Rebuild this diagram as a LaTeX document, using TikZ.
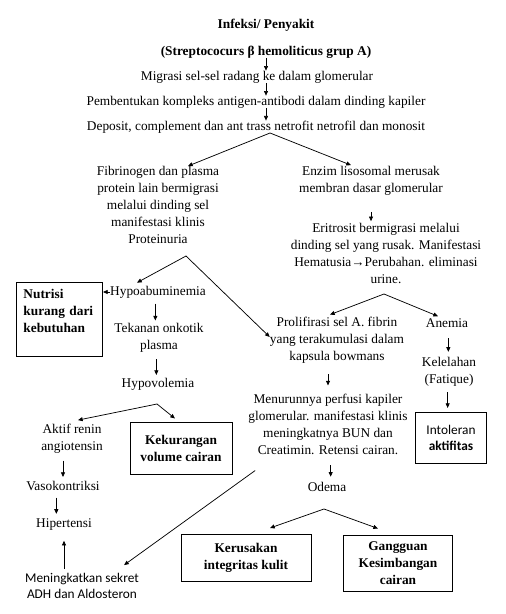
\documentclass[tikz,border=0pt]{standalone}
\usepackage{fontspec}
\setmainfont{Liberation Serif}
\newfontfamily\calibri{Carlito}
\usetikzlibrary{arrows.meta, positioning}

\tikzset{
  txt/.style={inner sep=0pt, align=center, font=\fontsize{10}{12.75}\selectfont},
  txtb/.style={txt, font=\bfseries\fontsize{10}{12.75}\selectfont},
  bx/.style={draw, line width=0.75pt, inner sep=0pt, align=center, font=\bfseries\fontsize{10}{12.75}\selectfont},
  arr/.style={-{Triangle[length=3.5pt,width=3pt]}, line width=0.55pt},
  ln/.style={line width=0.55pt},
}

\begin{document}
\begin{tikzpicture}[x=0.75pt, y=-0.75pt]
        \useasboundingbox (0,0) rectangle (506,614);
        % top chain
        \node[txtb] (title) at (266,25) {Infeksi/ Penyakit};
        \node[txtb] (strep) at (266,52) {(Streptococurs β hemoliticus grup A)};
        \node[txt] (migrasi) at (257,77) {Migrasi sel-sel radang ke dalam glomerular};
        \node[txt] (pemb) at (256,102) {Pembentukan kompleks antigen-antibodi dalam dinding kapiler};
        \node[txt] (deposit) at (256,127) {Deposit, complement dan ant trass netrofit netrofil dan monosit};
        \draw[arr] (strep.south) -- (strep.south |- migrasi.north);
        \draw[arr] (migrasi.south -| strep) -- (pemb.north -| strep);
        \draw[arr] (pemb.south -| strep) -- (deposit.north -| strep);

        % first split
        \node[txt] (fibrin) at (158,205) {Fibrinogen dan plasma\\ protein lain bermigrasi\\ melalui dinding sel\\ manifestasi klinis\\ Proteinuria};
        \node[txt] (enzim) at (371,181) {Enzim lisosomal merusak\\ membran dasar glomerular};
        \coordinate (splitA) at (270,133);
        \draw[arr] (splitA) -- ([shift={(30,0)}]fibrin.north);
        \draw[arr] (splitA) -- ([shift={(-20,-1)}]enzim.north);

        \node[txt] (eritrosit) at (386,253) {Eritrosit bermigrasi melalui\\ dinding sel yang rusak. Manifestasi\\ Hematusia→Perubahan. eliminasi\\ urine.};
        \draw[arr, shorten <=12pt, shorten >=1pt] (enzim.south) -- (enzim.south |- eritrosit.north);

        % right branch
        \node[txt] (prolif) at (337,340) {Prolifirasi sel A. fibrin\\ yang terakumulasi dalam\\ kapsula bowmans};
        \node[txt] (anemia) at (447,323) {Anemia};
        \coordinate (splitD) at (384,294);
        \draw[arr] (splitD) -- ([shift={(-7,-2)}]prolif.north);
        \draw[arr] (splitD) -- ([shift={(-9,-2)}]anemia.north);

        \node[txt] (kelelahan) at (449,372) {Kelelahan\\ (Fatique)};
        \node[draw, line width=0.75pt, inner sep=0pt, align=center, minimum width=53.25pt, minimum height=38.25pt,
              font=\calibri\fontsize{10}{11.5}\selectfont] (intoleran) at (451,438) {Intoleran\\ \textbf{aktifitas}};
        \draw[arr, shorten <=8pt, shorten >=4pt] ([xshift=1pt]anemia.south) -- ([xshift=1pt]anemia.south |- kelelahan.north);
        \draw[arr, shorten <=4pt, shorten >=3pt] ([xshift=-1pt]kelelahan.south) -- ([xshift=-1pt]kelelahan.south |- intoleran.north);

        \node[txt] (menurun) at (328,424) {Menurunnya perfusi kapiler\\ glomerular. manifestasi klinis\\ meningkatnya BUN dan\\ Creatimin. Retensi cairan.};
        \node[txt] (odema) at (327,487) {Odema};
        \draw[arr, shorten <=8pt, shorten >=6pt] (prolif.south -| menurun) -- (menurun.north);
        \draw[arr, shorten <=8pt, shorten >=4pt] ([xshift=2pt]menurun.south) -- ([xshift=2pt]menurun.south |- odema.north);

        % left branch
        \node[txt] (hypo) at (158,292) {Hypoabuminemia};
        \node[bx, anchor=north west, text width=54pt, inner xsep=5.25pt, minimum height=55.5pt, align=left] (nutrisi) at (16,282) {Nutrisi\\ kurang dari\\ kebutuhan\\ \mbox{}};
        \node[txt] (tekanan) at (159,338) {Tekanan onkotik\\ plasma};
        \node[txt] (hypovol) at (158,384) {Hypovolemia};
        \coordinate (splitB) at (186,256);
        \draw[arr] (splitB) -- ([shift={(-21,-3)}]hypo.north);
        \draw[arr] (splitB) -- ([shift={(0,-3)}]prolif.west);
        \draw[arr] (hypo.west) -- (nutrisi.east |- hypo.west);
        \draw[arr, shorten <=4pt, shorten >=2pt] ([xshift=-2pt]hypo.south) -- ([xshift=-2pt]hypo.south |- tekanan.north);
        \draw[arr, shorten <=5pt, shorten >=2pt] ([xshift=-2pt]tekanan.south) -- ([xshift=-2pt]tekanan.south |- hypovol.north);

        \node[txt] (aktif) at (72,439) {Aktif renin\\ angiotensin};
        \node[bx, minimum width=76.5pt, minimum height=39pt] (kekurangan) at (181,448) {Kekurangan\\ volume cairan};
        \coordinate (splitC) at (157,404);
        \draw[arr] (splitC) -- ([shift={(6,-4)}]aktif.north);
        \draw[arr] (splitC) -- ([shift={(-6,-3)}]kekurangan.north);

        \node[txt] (vaso) at (63,486) {Vasokontriksi};
        \node[txt] (hiper) at (64,524) {Hipertensi};
        \node[txt, font=\calibri\fontsize{10}{12}\selectfont] (mening) at (82,586) {Meningkatkan sekret\\ ADH dan Aldosteron};
        \draw[arr, shorten <=5pt, shorten >=3pt] (aktif.south -| vaso) -- (vaso.north);
        \draw[arr, shorten <=5pt, shorten >=3pt] ([xshift=-5pt]vaso.south) -- ([xshift=-5pt]vaso.south |- hiper.north);
        \draw[arr, shorten <=3pt, shorten >=8pt] (mening.north -| hiper) -- (hiper.south);
        \draw[arr] ([shift={(7,16)}]menurun.south west) -- ([shift={(-15,-8)}]mening.north east);

        % bottom boxes
        \node[bx, minimum width=97.5pt, minimum height=35.25pt] (kerusakan) at (246,558) {Kerusakan\\ integritas kulit};
        \node[bx, minimum width=81.75pt, minimum height=42pt] (gangguan) at (398,563) {Gangguan\\ Kesimbangan\\ cairan};
        \coordinate (splitE) at (324,509);
        \draw[arr] (splitE) -- ([shift={(24,-6)}]kerusakan.north);
        \draw[arr] (splitE) -- ([shift={(-20,-6)}]gangguan.north);
    \end{tikzpicture}
\end{document}
